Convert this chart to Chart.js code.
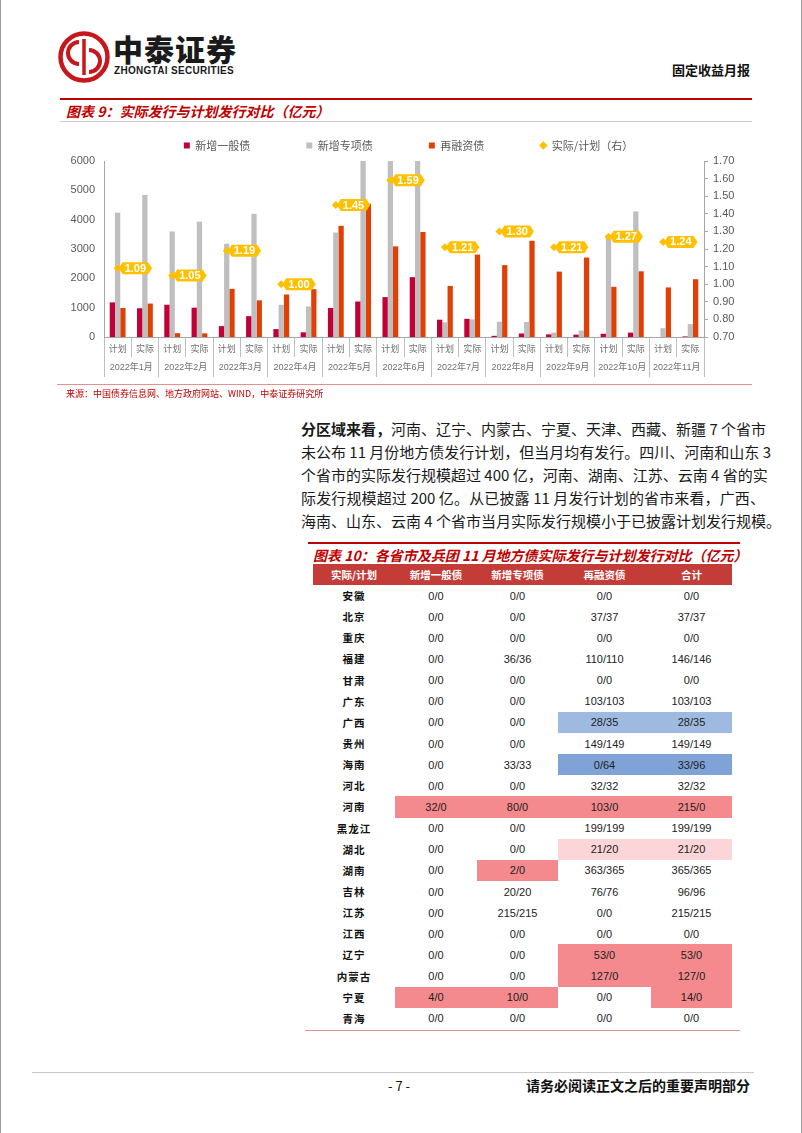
<!DOCTYPE html>
<html lang="zh-CN">
<head>
<meta charset="utf-8">
<title>固定收益月报</title>
<script src="https://cdn.jsdelivr.net/npm/chart.js@4.4.1/dist/chart.umd.min.js"></script>
<style>
  html, body { margin: 0; padding: 0; background: #fff; }
  body {
    width: 802px; height: 1133px; position: relative; overflow: hidden;
    font-family: "Noto Sans CJK SC", "Liberation Sans", sans-serif; color: #222;
  }
  .page { position: absolute; left: 0; top: 0; width: 802px; height: 1133px; box-sizing: border-box;
    border-left: 1px solid #9a9a9a; border-right: 1px solid #9a9a9a; }
  .abs { position: absolute; white-space: nowrap; }
  .brand { left: 113px; top: 26px; font-size: 30px; font-weight: 900; letter-spacing: 1px; color: #1a1a1a; }
  .brand-en { left: 114px; top: 65px; font: bold 10px "Liberation Sans", sans-serif; letter-spacing: 0.3px; color: #1a1a1a; }
  .report { right: 52px; top: 60px; font-size: 13px; font-weight: bold; color: #111; }
  .fig-title { font-size: 14px; font-weight: bold; font-style: italic; color: #C00000; }
  .redline { position: absolute; background: #C00000; height: 2px; }
  .thinline { position: absolute; height: 1px; }
  .source { left: 66px; top: 387px; font-size: 9px; color: #C00000; }
  .para { position: absolute; left: 301px; top: 417px; width: 464px; font-size: 15px; line-height: 23px; color: #1a1a1a; }
  .para div { text-align: justify; text-align-last: justify; white-space: nowrap; }
  table.prov { position: absolute; left: 313px; top: 564px; border-collapse: collapse; table-layout: fixed; }
  table.prov th { background: #C43C37; color: #fff; font-size: 10.5px; font-weight: bold; height: 21px; padding: 0; text-align: center; }
  table.prov td { height: 21.15px; padding: 0; text-align: center; font: 11px "Liberation Sans", sans-serif; color: #222; }
  table.prov td.name { font-family: "Noto Sans CJK SC", sans-serif; font-weight: bold; font-size: 10.5px; letter-spacing: 1px; color: #111; }
  td.red { background: #F48A8E; }
  td.pink { background: #FBD5D7; }
  td.blueLight { background: #9FBAE1; }
  td.blue { background: #7FA3D7; }
</style>
</head>
<body>
<div class="page"></div>

<!-- header -->
<svg class="abs" style="left:57px;top:30px" width="54" height="54" viewBox="0 0 54 54">
  <circle cx="27" cy="27" r="23.5" fill="none" stroke="#C8161D" stroke-width="4.5"/>
  <path d="M22 12 A 11 11 0 1 0 22 34" fill="none" stroke="#C8161D" stroke-width="4"/>
  <path d="M32 20 A 11 11 0 1 1 32 42" fill="none" stroke="#C8161D" stroke-width="4"/>
  <line x1="27" y1="9" x2="27" y2="45" stroke="#C8161D" stroke-width="3.5"/>
</svg>
<div class="abs brand">中泰证券</div>
<div class="abs brand-en">ZHONGTAI SECURITIES</div>
<div class="abs report">固定收益月报</div>

<!-- figure 9 -->
<div class="redline" style="left:60px;top:98px;width:692px"></div>
<div class="abs fig-title" style="left:66px;top:101px">图表 9：实际发行与计划发行对比（亿元）</div>
<div class="thinline" style="left:60px;top:121px;width:692px;background:#D8C4C4"></div>

<div class="abs" style="left:0;top:128px;width:802px;height:258px">
  <canvas id="issueChart" width="802" height="258"></canvas>
</div>

<div class="thinline" style="left:57px;top:384px;width:695px;background:#E29090"></div>
<div class="abs source">来源：中国债券信息网、地方政府网站、WIND，中泰证券研究所</div>

<!-- paragraph -->
<div class="para">
  <div><b>分区域来看，</b>河南、辽宁、内蒙古、宁夏、天津、西藏、新疆 7 个省市</div>
  <div>未公布 11 月份地方债发行计划，但当月均有发行。四川、河南和山东 3</div>
  <div>个省市的实际发行规模超过 400 亿，河南、湖南、江苏、云南 4 省的实</div>
  <div>际发行规模超过 200 亿。从已披露 11 月发行计划的省市来看，广西、</div>
  <div>海南、山东、云南 4 个省市当月实际发行规模小于已披露计划发行规模。</div>
</div>

<!-- figure 10 -->
<div class="redline" style="left:308px;top:542px;width:432px"></div>
<div class="abs fig-title" style="left:313px;top:545px">图表 10：各省市及兵团 11 月地方债实际发行与计划发行对比（亿元）</div>
<table class="prov" id="provTable">
  <colgroup><col style="width:82px"><col style="width:82px"><col style="width:81px"><col style="width:93px"><col style="width:81px"></colgroup>
  <thead><tr><th>实际/计划</th><th>新增一般债</th><th>新增专项债</th><th>再融资债</th><th>合计</th></tr></thead>
  <tbody></tbody>
</table>
<div class="thinline" style="left:305px;top:1030px;width:435px;background:#E29090"></div>

<!-- footer -->
<div class="thinline" style="left:32px;top:1072px;width:722px;background:#C8C8C8"></div>
<div class="abs" style="left:388px;top:1076px;font-size:13px;color:#111">- 7 -</div>
<div class="abs" style="right:52px;top:1075px;font-size:14px;font-weight:bold;color:#111">请务必阅读正文之后的重要声明部分</div>

<script>
// ---- 图表9 数据（亿元），每月两组：计划 / 实际 ----
const months = ['2022年1月', '2022年2月', '2022年3月', '2022年4月', '2022年5月', '2022年6月',
  '2022年7月', '2022年8月', '2022年9月', '2022年10月', '2022年11月']
const phases = ['计划', '实际']

// order: 1月计划, 1月实际, 2月计划, 2月实际, ...
const generalBond = [1180, 980, 1100, 1000, 370, 710, 270, 160, 990, 1210, 1360, 2040,
  590, 620, 40, 120, 90, 80, 110, 150, 0, 20]
const specialBond = [4240, 4840, 3600, 3930, 3180, 4200, 1100, 1040, 3560, 6600, 7200, 6900,
  500, 600, 520, 510, 150, 220, 3450, 4280, 300, 440]
const refinanceBond = [990, 1140, 130, 125, 1640, 1250, 1450, 1630, 3790, 4540, 3090, 3580,
  1740, 2810, 2450, 3280, 2230, 2710, 1710, 2240, 1690, 1970]
// 实际/计划（右轴）
const actualToPlan = [1.09, 1.05, 1.19, 1.00, 1.45, 1.59, 1.21, 1.30, 1.21, 1.27, 1.24]

// ---- 图表10 数据 ----
const provinces = ['安徽', '北京', '重庆', '福建', '甘肃', '广东', '广西', '贵州', '海南', '河北', '河南',
  '黑龙江', '湖北', '湖南', '吉林', '江苏', '江西', '辽宁', '内蒙古', '宁夏', '青海']
const provGeneral = ['0/0', '0/0', '0/0', '0/0', '0/0', '0/0', '0/0', '0/0', '0/0', '0/0', '32/0',
  '0/0', '0/0', '0/0', '0/0', '0/0', '0/0', '0/0', '0/0', '4/0', '0/0']
const provSpecial = ['0/0', '0/0', '0/0', '36/36', '0/0', '0/0', '0/0', '0/0', '33/33', '0/0', '80/0',
  '0/0', '0/0', '2/0', '20/20', '215/215', '0/0', '0/0', '0/0', '10/0', '0/0']
const provRefinance = ['0/0', '37/37', '0/0', '110/110', '0/0', '103/103', '28/35', '149/149', '0/64', '32/32', '103/0',
  '199/199', '21/20', '363/365', '76/76', '0/0', '0/0', '53/0', '127/0', '0/0', '0/0']
const provTotal = ['0/0', '37/37', '0/0', '146/146', '0/0', '103/103', '28/35', '149/149', '33/96', '32/32', '215/0',
  '199/199', '21/20', '365/365', '96/96', '215/215', '0/0', '53/0', '127/0', '14/0', '0/0']

// cell shading (style only): province -> [general, special, refinance, total]
const shading = {
  '广西': [null, null, 'blueLight', 'blueLight'],
  '海南': [null, null, 'blue', 'blue'],
  '河南': ['red', 'red', 'red', 'red'],
  '湖北': [null, null, 'pink', 'pink'],
  '湖南': [null, 'red', null, null],
  '辽宁': [null, null, 'red', 'red'],
  '内蒙古': [null, null, 'red', 'red'],
  '宁夏': ['red', 'red', null, 'red'],
}

const tbody = document.querySelector('#provTable tbody')
provinces.forEach((name, i) => {
  const tr = document.createElement('tr')
  const nameTd = document.createElement('td')
  nameTd.className = 'name'
  nameTd.textContent = name
  tr.appendChild(nameTd)
  const cols = [provGeneral[i], provSpecial[i], provRefinance[i], provTotal[i]]
  cols.forEach((v, c) => {
    const td = document.createElement('td')
    td.textContent = v
    const s = shading[name]
    if (s && s[c]) td.className = s[c]
    tr.appendChild(td)
  })
  tbody.appendChild(tr)
})

// ---- chart ----
const categoryLabels = months.flatMap(() => phases)
const ratioPoints = actualToPlan.flatMap(v => [v, null])

const GAP = '\u3000\u3000\u3000\u3000'

// yellow callout labels next to the ratio markers
const ratioLabels = {
  id: 'ratioLabels',
  afterDatasetsDraw(chart) {
    const idx = chart.data.datasets.findIndex(d => d.type === 'line')
    const meta = chart.getDatasetMeta(idx)
    const values = chart.data.datasets[idx].data
    const { ctx } = chart
    ctx.save()
    ctx.font = 'bold 11px "Liberation Sans", sans-serif'
    ctx.textAlign = 'center'
    ctx.textBaseline = 'middle'
    meta.data.forEach((pt, i) => {
      if (values[i] == null) return
      const text = values[i].toFixed(2)
      const w = ctx.measureText(text).width + 4
      const h = 12
      const tip = 4
      const x0 = pt.x + tip + 1
      const y0 = pt.y
      ctx.beginPath()
      ctx.moveTo(x0 - tip, y0)
      ctx.lineTo(x0, y0 - h / 2)
      ctx.lineTo(x0 + w, y0 - h / 2)
      ctx.lineTo(x0 + w + tip, y0)
      ctx.lineTo(x0 + w, y0 + h / 2)
      ctx.lineTo(x0, y0 + h / 2)
      ctx.closePath()
      ctx.fillStyle = '#FFC000'
      ctx.fill()
      ctx.fillStyle = '#fff'
      ctx.fillText(text, x0 + w / 2, y0 + 0.5)
    })
    ctx.restore()
  },
}

Chart.defaults.font.family = '"Liberation Sans", "Noto Sans CJK SC", sans-serif'
Chart.defaults.color = '#595959'

new Chart(document.getElementById('issueChart'), {
  type: 'bar',
  data: {
    labels: categoryLabels,
    datasets: [
      { label: '新增一般债', data: generalBond, backgroundColor: '#C00036', yAxisID: 'y' },
      { label: '新增专项债', data: specialBond, backgroundColor: '#BFBFBF', yAxisID: 'y' },
      { label: '再融资债', data: refinanceBond, backgroundColor: '#E04006', yAxisID: 'y' },
      {
        type: 'line',
        label: '实际/计划（右）',
        data: ratioPoints,
        yAxisID: 'y1',
        showLine: false,
        order: -1,
        borderColor: '#FFC000',
        borderWidth: 0,
        pointStyle: 'rectRot',
        pointRadius: 4,
        pointBackgroundColor: '#FFC000',
        pointBorderWidth: 0,
      },
    ],
  },
  options: {
    responsive: false,
    animation: false,
    events: [],
    datasets: { bar: { barPercentage: 1, categoryPercentage: 0.58 } },
    layout: { padding: { left: 69, right: 54, top: 0, bottom: 7 } },
    plugins: {
      tooltip: { enabled: false },
      legend: {
        position: 'top',
        labels: {
          usePointStyle: true,
          boxWidth: 6,
          boxHeight: 6,
          padding: 12,
          color: '#595959',
          font: { size: 11, family: '"Noto Sans CJK SC", sans-serif' },
          sort: (a, b) => a.datasetIndex - b.datasetIndex,
          generateLabels(chart) {
            const items = Chart.defaults.plugins.legend.labels.generateLabels(chart)
            items.forEach(item => {
              const isLine = chart.data.datasets[item.datasetIndex].type === 'line'
              item.pointStyle = isLine ? 'rectRot' : 'rect'
              item.lineWidth = 0
              if (!isLine) item.text = item.text + GAP
            })
            return items
          },
        },
      },
    },
    scales: {
      x: {
        type: 'category',
        position: 'bottom',
        weight: 0,
        offset: true,
        grid: { offset: true, drawOnChartArea: false, tickLength: 20, color: '#BFBFBF' },
        border: { color: '#A6A6A6' },
        ticks: { padding: -13, autoSkip: false, maxRotation: 0, color: '#707070', font: { size: 9 } },
        afterFit: scale => { scale.height = 20 },
      },
      x2: {
        type: 'category',
        position: 'bottom',
        weight: 1,
        labels: months,
        offset: true,
        grid: { offset: true, drawOnChartArea: false, tickLength: 20, color: '#BFBFBF' },
        border: { display: false },
        ticks: { padding: -15, autoSkip: false, maxRotation: 0, color: '#707070', font: { size: 9 } },
        afterFit: scale => { scale.height = 22 },
      },
      y: {
        position: 'left',
        min: 0,
        max: 6000,
        grid: { display: false, drawTicks: false },
        border: { color: '#A6A6A6' },
        ticks: { stepSize: 1000, padding: 9, font: { size: 11 }, callback: v => String(v) },
        afterFit: scale => { scale.width = 35 },
      },
      y1: {
        position: 'right',
        min: 0.7,
        max: 1.7,
        grid: { drawOnChartArea: false, tickLength: 4, color: '#A6A6A6' },
        border: { color: '#A6A6A6' },
        ticks: { stepSize: 0.1, padding: 5, font: { size: 11 }, callback: v => v.toFixed(2) },
        afterFit: scale => { scale.width = 44 },
      },
    },
  },
  plugins: [ratioLabels],
})
</script>
</body>
</html>
